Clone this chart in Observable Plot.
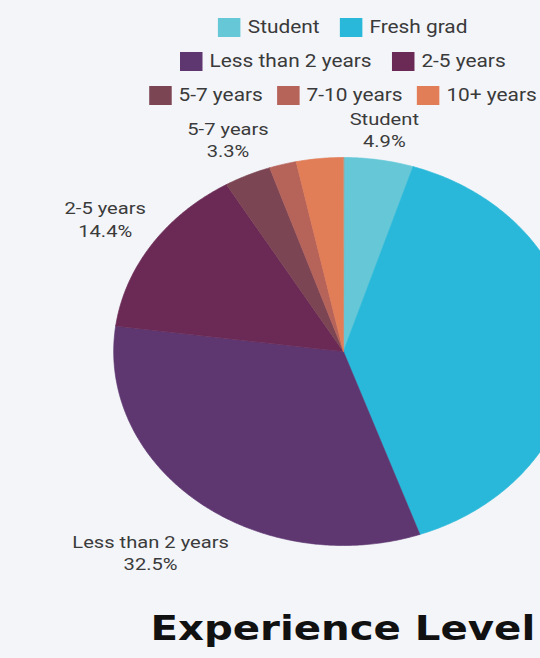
<!DOCTYPE html>
<html><head><meta charset="utf-8">
<script src="https://cdn.jsdelivr.net/npm/d3@7"></script>
<script src="https://cdn.jsdelivr.net/npm/@observablehq/plot@0.6"></script>
<style>
html,body{margin:0;padding:0;background:#f3f5f9;}
#frame{position:relative;width:540px;height:658px;overflow:hidden;background:#f3f5f9;}
#stretch{position:absolute;left:0;top:0;width:456px;height:658px;transform-origin:0 0;}
#chart{position:absolute;left:0;top:0;}
#legend{position:absolute;left:0;top:10px;width:579px;display:flex;flex-direction:column;align-items:center;font-family:Roboto,sans-serif;font-size:17.6px;color:#3a3a3a;}
.row{display:flex;height:34px;align-items:center;white-space:nowrap;}
.item{display:flex;align-items:center;margin:0 8.5px;}
.row.tight .item{margin:0 6px;}
.sw{width:19px;height:19px;margin-right:6px;}
#title{position:absolute;left:0;top:611px;width:579px;text-align:center;font-family:"DejaVu Sans",sans-serif;font-weight:bold;font-size:34px;line-height:34px;color:#111;white-space:nowrap;}
</style></head>
<body>
<div id="frame"><div id="stretch"><div id="chart"></div><div id="legend"></div><div id="title"></div></div></div>
<script>
// ---- data ----
const categories = ["Student", "Fresh grad", "Less than 2 years", "2-5 years", "5-7 years", "7-10 years", "10+ years"];
const shares = [4.9, 39.7, 32.5, 14.4, 3.3, 1.9, 3.3];
const colors = ["#66c7d7", "#29b8d9", "#5e3670", "#6a2a55", "#7c4553", "#b6635a", "#e17d57"];
const legendRows = [["Student", "Fresh grad"], ["Less than 2 years", "2-5 years"], ["5-7 years", "7-10 years", "10+ years"]];
const labelled = ["Student", "Less than 2 years", "2-5 years", "5-7 years"];
const titleText = "Experience Level";

// ---- layout ----
const W = 456, H = 658, cx = 289.5, cy = 351, R = 194, stretch = 540 / 456;
document.getElementById("stretch").style.transform = `scaleX(${stretch})`;
document.getElementById("title").textContent = titleText;

const colorOf = new Map(categories.map((c, i) => [c, colors[i]]));
const legend = document.getElementById("legend");
for (const row of legendRows) {
  const r = document.createElement("div"); r.className = row.length > 2 ? "row tight" : "row";
  for (const c of row) {
    const it = document.createElement("div"); it.className = "item";
    const sw = document.createElement("div"); sw.className = "sw"; sw.style.background = colorOf.get(c);
    const t = document.createElement("span"); t.textContent = c;
    it.append(sw, t); r.append(it);
  }
  legend.append(r);
}

// ---- pie geometry (clockwise from top) ----
const total = d3.sum(shares);
const arcs = [];
let acc = 0;
categories.forEach((c, i) => {
  const a0 = acc / total * 2 * Math.PI; acc += shares[i];
  const a1 = acc / total * 2 * Math.PI;
  arcs.push({cat: c, value: shares[i], a0, a1});
});
const pts = [];
for (const a of arcs) {
  pts.push({cat: a.cat, x: 0, y: 0});
  const n = Math.max(2, Math.ceil((a.a1 - a.a0) / 0.01));
  for (let k = 0; k <= n; k++) {
    const t = a.a0 + (a.a1 - a.a0) * k / n;
    pts.push({cat: a.cat, x: Math.sin(t), y: Math.cos(t)});
  }
}

// ---- labels ----
const labelSize = 17;
const ctx = document.createElement("canvas").getContext("2d");
ctx.font = `${labelSize}px Roboto`;
const gap = 8, halfH = 19;
const labels = arcs.filter(a => labelled.includes(a.cat)).map(a => {
  const m = (a.a0 + a.a1) / 2, s = Math.sin(m), co = Math.cos(m);
  const w = ctx.measureText(a.cat).width;
  const dist = R + gap + Math.abs(s) * w / 2 + Math.abs(co) * halfH;
  return {x: s * dist / R, y: co * dist / R, text: a.cat + "\n" + a.value.toFixed(1) + "%"};
});

const chart = Plot.plot({
  width: W, height: H, margin: 0,
  x: {domain: [-cx / R, (W - cx) / R], axis: null},
  y: {domain: [-(H - cy) / R, cy / R], axis: null},
  color: {domain: categories, range: colors},
  style: {background: "transparent", overflow: "visible"},
  marks: [
    Plot.line(pts, {x: "x", y: "y", z: "cat", fill: "cat", stroke: "cat", strokeWidth: 0.6, curve: "linear-closed"}),
    Plot.text(labels, {x: "x", y: "y", text: "text", fontSize: labelSize, fontFamily: "Roboto", fill: "#3b3b3b", lineHeight: 1.3})
  ]
});
document.getElementById("chart").append(chart);
</script>
</body></html>
